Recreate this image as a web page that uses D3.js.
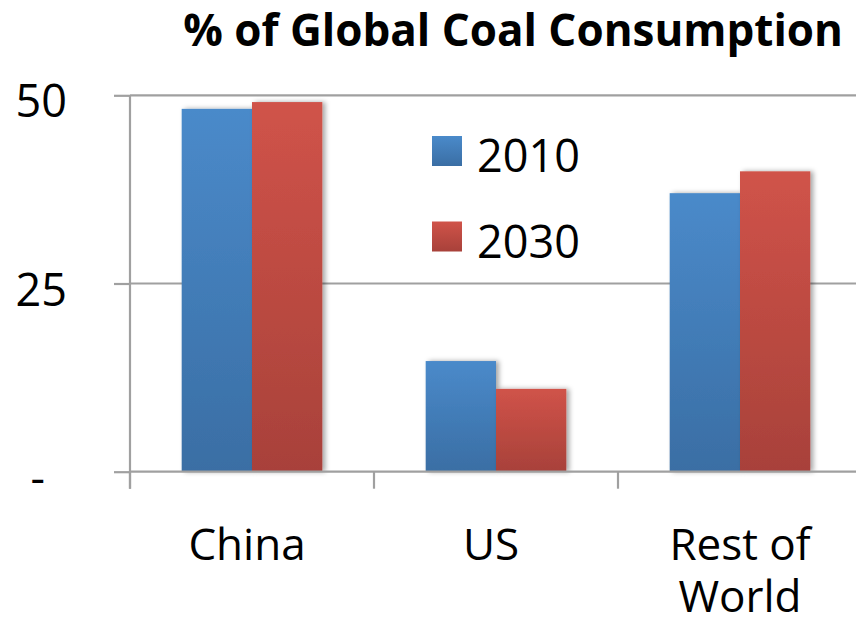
<!DOCTYPE html>
<html>
<head>
<meta charset="utf-8">
<script src="https://cdn.jsdelivr.net/npm/d3@7"></script>
<style>
  body { margin: 0; background: #fff; }
  svg { display: block; font-family: "Open Sans", sans-serif; }
</style>
</head>
<body>
<svg id="canvas" width="856" height="626"></svg>
<script>
const categories = ["China", "US", "Rest of World"];
const categoryLines = [["China"], ["US"], ["Rest of", "World"]];
const years = ["2010", "2030"];
const values2010 = [48.2, 14.7, 37.0];
const values2030 = [49.1, 11.0, 39.9];
const yTicks = [0, 25, 50];
const yTickLabels = ["-", "25", "50"];
const chartTitle = "% of Global Coal Consumption";

const canvas = d3.select("#canvas");
const colors = {
  "2010": ["#4a8aca", "#3a6ea4"],
  "2030": ["#d05349", "#a8413a"]
};

const defs = canvas.append("defs");
years.forEach((year) => {
  const grad = defs
    .append("linearGradient")
    .attr("id", "grad" + year)
    .attr("x1", 0).attr("y1", 0)
    .attr("x2", 0).attr("y2", 1);
  grad.append("stop").attr("offset", "0%").attr("stop-color", colors[year][0]);
  grad.append("stop").attr("offset", "100%").attr("stop-color", colors[year][1]);
});
defs
  .append("filter")
  .attr("id", "shadow")
  .attr("x", "-20%").attr("y", "-20%")
  .attr("width", "140%").attr("height", "140%")
  .append("feDropShadow")
  .attr("dx", 3).attr("dy", 0)
  .attr("stdDeviation", 2.5)
  .attr("flood-color", "#000")
  .attr("flood-opacity", 0.35);

const plotLeft = 130;
const plotRight = 862;
const plotTop = 95.3;
const plotBottom = 471.7;

const x = d3.scaleBand().domain(categories).range([plotLeft, plotRight]).padding(0);
const xInner = d3
  .scaleBand()
  .domain(years)
  .range([0, x.bandwidth()])
  .paddingInner(0)
  .paddingOuter(0.735);
const y = d3.scaleLinear().domain([0, 50]).range([plotBottom, plotTop]);

const rows = categories.map((cat, i) => {
  return { category: cat, "2010": values2010[i], "2030": values2030[i] };
});

// gridlines
canvas
  .append("g")
  .selectAll("line")
  .data(yTicks.filter((t) => t > 0))
  .enter()
  .append("line")
  .attr("x1", plotLeft)
  .attr("x2", 856)
  .attr("y1", (t) => y(t))
  .attr("y2", (t) => y(t))
  .attr("stroke", "#a0a0a0")
  .attr("stroke-width", 2.2);

// bars
const group = canvas
  .append("g")
  .selectAll("g")
  .data(rows)
  .enter()
  .append("g")
  .attr("transform", (d) => "translate(" + x(d.category) + ",0)");

group
  .selectAll("rect")
  .data((d) => years.map((year) => ({ year: year, value: d[year] })))
  .enter()
  .append("rect")
  .attr("x", (d) => xInner(d.year))
  .attr("y", (d) => y(d.value))
  .attr("width", xInner.bandwidth())
  .attr("height", (d) => y(0) - y(d.value))
  .attr("fill", (d) => "url(#grad" + d.year + ")")
  .attr("filter", "url(#shadow)");

// y axis
const yAxis = d3
  .axisLeft(y)
  .tickValues(yTicks)
  .tickSize(16)
  .tickPadding(0)
  .tickFormat((t) => yTickLabels[yTicks.indexOf(t)]);

const yAxisG = canvas
  .append("g")
  .attr("transform", "translate(" + plotLeft + ",0)")
  .call(yAxis);
yAxisG.select(".domain").remove();
yAxisG.selectAll(".tick line").attr("stroke", "#a0a0a0").attr("stroke-width", 2.2);
yAxisG
  .selectAll(".tick text")
  .attr("x", (t) => (t === 0 ? -85 : -63))
  .attr("dy", 21.5)
  .attr("fill", "#000")
  .style("font-size", "45px")
  .style("font-family", "'Open Sans', sans-serif");

canvas
  .append("line")
  .attr("x1", plotLeft).attr("x2", plotLeft)
  .attr("y1", plotTop).attr("y2", plotBottom + 17)
  .attr("stroke", "#a0a0a0")
  .attr("stroke-width", 2.2);

// x axis
canvas
  .append("line")
  .attr("x1", plotLeft)
  .attr("x2", 856)
  .attr("y1", plotBottom)
  .attr("y2", plotBottom)
  .attr("stroke", "#a0a0a0")
  .attr("stroke-width", 2.2);

const boundaries = categories
  .map((c) => x(c))
  .concat([x(categories[categories.length - 1]) + x.bandwidth()]);
canvas
  .append("g")
  .selectAll("line")
  .data(boundaries)
  .enter()
  .append("line")
  .attr("x1", (b) => b)
  .attr("x2", (b) => b)
  .attr("y1", plotBottom)
  .attr("y2", plotBottom + 17)
  .attr("stroke", "#a0a0a0")
  .attr("stroke-width", 2.2);

const labels = canvas
  .append("g")
  .selectAll("text")
  .data(categories)
  .enter()
  .append("text")
  .attr("text-anchor", "middle")
  .attr("fill", "#000")
  .style("font-size", "44px");

labels
  .selectAll("tspan")
  .data((c, i) => categoryLines[i].map((line) => ({ line: line, cat: c })))
  .enter()
  .append("tspan")
  .attr("x", (d) => x(d.cat) + x.bandwidth() / 2 - (d.cat === "Rest of World" ? 0 : 5))
  .attr("y", (d, j) => 560 + j * 52)
  .text((d) => d.line);

// legend
const legend = canvas
  .append("g")
  .selectAll("g")
  .data(years)
  .enter()
  .append("g")
  .attr("transform", (d, i) => "translate(432," + (136 + i * 85.5) + ")");

legend
  .append("rect")
  .attr("width", 30)
  .attr("height", 30)
  .attr("fill", (d) => "url(#grad" + d + ")");

legend
  .append("text")
  .attr("x", 45)
  .attr("y", 36)
  .attr("fill", "#000")
  .style("font-size", "45px")
  .text((d) => d);

// title
const title = canvas
  .append("text")
  .attr("x", 843)
  .attr("y", 46)
  .attr("text-anchor", "end")
  .attr("fill", "#000")
  .style("font-weight", "bold")
  .style("font-size", "38px")
  .text(chartTitle);

const titleWidth = title.node().getComputedTextLength();
title.style("font-size", (38 * 660) / titleWidth + "px");
</script>
</body>
</html>
